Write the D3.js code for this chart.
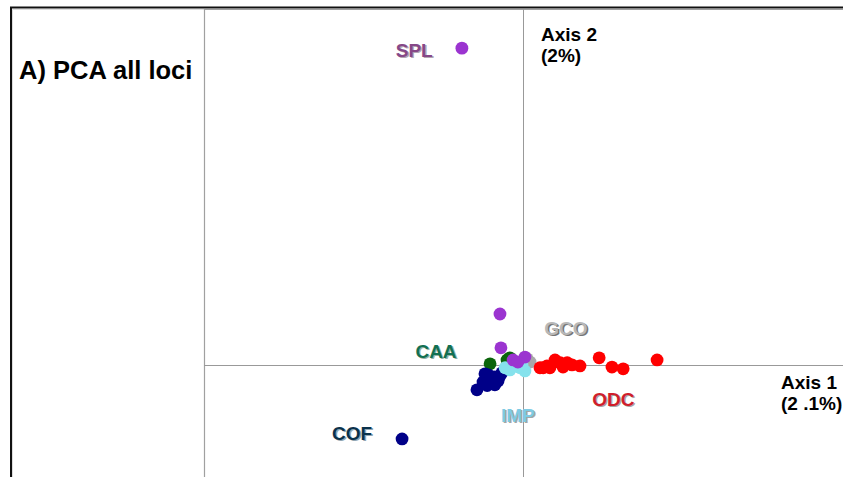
<!DOCTYPE html>
<html>
<head>
<meta charset="utf-8">
<script src="https://cdn.jsdelivr.net/npm/d3@7"></script>
<style>
  body { margin: 0; background: #fff; }
  svg { display: block; font-family: 'Liberation Sans', Arial, sans-serif; }
</style>
</head>
<body>
<svg id="chart" width="843" height="477"></svg>
<script>
// PCA scores (axis 1, axis 2) per population
const groups = ['CAA', 'COF', 'GCO', 'IMP', 'SPL', 'ODC'];

const caaX = [-0.103, -0.050, -0.041];
const caaY = [0.003, 0.014, 0.020];

const cofX = [-0.378, -0.144, -0.125, -0.109, -0.088, -0.066, -0.056, -0.097, -0.119, -0.103, -0.078, -0.088, -0.072, -0.112];
const cofY = [-0.208, -0.070, -0.048, -0.028, -0.034, -0.022, -0.014, -0.051, -0.025, -0.039, -0.045, -0.056, -0.031, -0.058];

const gcoX = [0.022, 0.013];
const gcoY = [0.008, 0.017];

const impX = [-0.056, -0.034, -0.009, 0.006, -0.025, -0.003, -0.041];
const impY = [-0.008, -0.006, -0.008, -0.017, 0.003, 0.000, -0.014];

const splX = [-0.191, -0.072, -0.069, -0.031, 0.006, -0.016];
const splY = [0.890, 0.143, 0.048, 0.014, 0.022, 0.008];

const odcX = [0.063, 0.084, 0.100, 0.116, 0.138, 0.153, 0.178, 0.075, 0.125, 0.238, 0.278, 0.313, 0.419, 0.053];
const odcY = [-0.008, -0.008, 0.014, 0.006, 0.006, 0.000, -0.003, -0.003, -0.006, 0.020, -0.006, -0.011, 0.014, -0.008];

// label anchor positions in axis units
const labelX = [-0.272, -0.534, 0.134, -0.016, -0.34, 0.282];
const labelY = [0.040, -0.190, 0.104, -0.140, 0.885, -0.096];

const dotColor = {
  CAA: '#0a640a', COF: '#000088', GCO: '#a8a8a8', IMP: '#86e2ec', SPL: '#9b34d0', ODC: '#ff0000',
};
const labelColor = {
  CAA: '#127052', COF: '#0a324c', GCO: '#b8b8b8', IMP: '#7ecbe4', SPL: '#864888', ODC: '#d01e2c',
};
const shadowColor = {
  CAA: '#7aa090', COF: '#7890a0', GCO: '#555555', IMP: '#909090', SPL: '#a090a0', ODC: '#909090',
};

const xs = { CAA: caaX, COF: cofX, GCO: gcoX, IMP: impX, SPL: splX, ODC: odcX };
const ys = { CAA: caaY, COF: cofY, GCO: gcoY, IMP: impY, SPL: splY, ODC: odcY };

const width = 843;
const height = 477;
const plot = { left: 204, top: 9, right: 843, bottom: 477 };

const svg = d3.select('#chart');

const x = d3.scaleLinear().domain([-0.997, 1]).range([plot.left, plot.right]);
const y = d3.scaleLinear().domain([-0.315, 1]).range([plot.bottom, plot.top]);

// outer frame
svg.append('path')
  .attr('d', `M11,${height} V7.5 H${width}`)
  .attr('fill', 'none')
  .attr('stroke', '#111')
  .attr('stroke-width', 2);
svg.append('path')
  .attr('d', `M12.5,${height} V9.5 H${width}`)
  .attr('fill', 'none')
  .attr('stroke', '#ddd')
  .attr('stroke-width', 1);

// plot box
svg.append('path')
  .attr('d', `M${plot.left + 0.5},${height} V${plot.top + 0.5} H${width}`)
  .attr('fill', 'none')
  .attr('stroke', '#a0a0a0')
  .attr('stroke-width', 1.2);

// zero axes
svg.append('line')
  .attr('x1', plot.left).attr('x2', plot.right)
  .attr('y1', Math.round(y(0)) + 0.5).attr('y2', Math.round(y(0)) + 0.5)
  .attr('stroke', '#999').attr('stroke-width', 1);
svg.append('line')
  .attr('x1', Math.round(x(0)) + 0.5).attr('x2', Math.round(x(0)) + 0.5)
  .attr('y1', plot.top).attr('y2', plot.bottom)
  .attr('stroke', '#999').attr('stroke-width', 1);

// title
svg.append('text')
  .attr('x', 19).attr('y', 79)
  .attr('font-size', 25.5).attr('font-weight', 'bold')
  .attr('fill', '#000')
  .text('A) PCA all loci');

// axis names
const axisText = [
  { x: 541, y: 41, t: 'Axis 2' }, { x: 541, y: 62, t: '(2%)' },
  { x: 781, y: 389, t: 'Axis 1' }, { x: 781, y: 410, t: '(2 .1%)' },
];
svg.selectAll('text.axisname')
  .data(axisText)
  .enter().append('text')
  .attr('class', 'axisname')
  .attr('x', (d) => d.x).attr('y', (d) => d.y)
  .attr('font-size', 19).attr('font-weight', 'bold')
  .attr('fill', '#000')
  .text((d) => d.t);

// dots, drawn in overlap order
const drawOrder = ['CAA', 'COF', 'GCO', 'IMP', 'SPL', 'ODC'];
drawOrder.forEach((g) => {
  const pts = xs[g].map((v, i) => ({ x: v, y: ys[g][i] }));
  svg.append('g')
    .selectAll('circle')
    .data(pts)
    .enter().append('circle')
    .attr('cx', (d) => x(d.x))
    .attr('cy', (d) => y(d.y))
    .attr('r', 6.4)
    .attr('fill', dotColor[g]);
});

// group labels with soft shadow
const labels = groups.map((g, i) => ({ g, x: labelX[i], y: labelY[i] }));
const lab = svg.selectAll('g.label')
  .data(labels)
  .enter().append('g')
  .attr('class', 'label')
  .attr('transform', (d) => `translate(${x(d.x)},${y(d.y)})`);

lab.append('text')
  .attr('x', 1.4).attr('y', 8.4)
  .attr('text-anchor', 'middle')
  .attr('font-size', 19).attr('font-weight', 'bold')
  .attr('fill', (d) => shadowColor[d.g])
  .attr('opacity', 0.8)
  .text((d) => d.g);

lab.append('text')
  .attr('x', 0).attr('y', 7)
  .attr('text-anchor', 'middle')
  .attr('font-size', 19).attr('font-weight', 'bold')
  .attr('fill', (d) => labelColor[d.g])
  .text((d) => d.g);
</script>
</body>
</html>
